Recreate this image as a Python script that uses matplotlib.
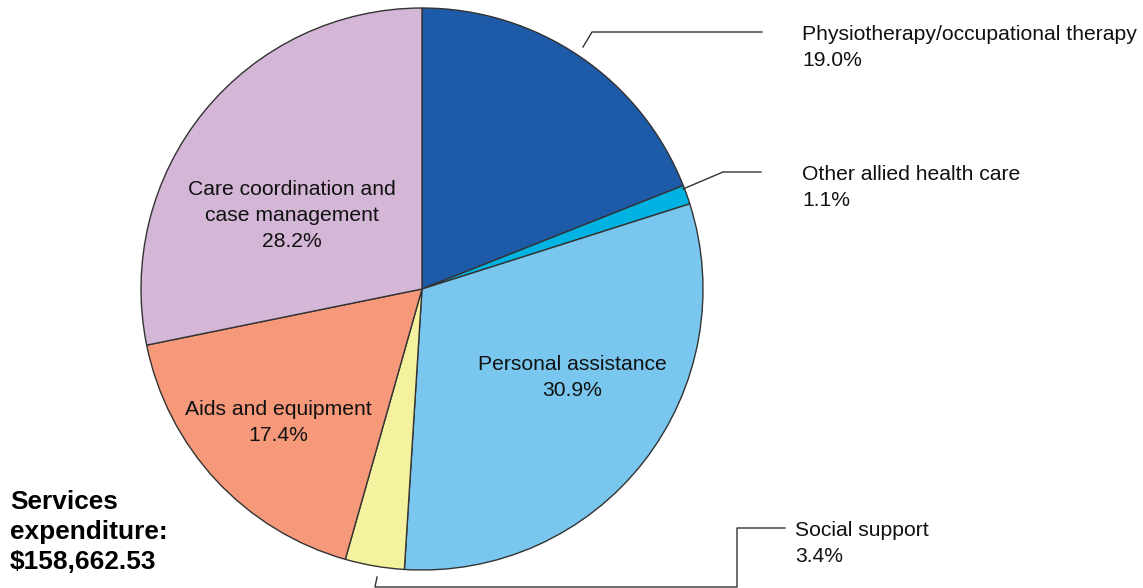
import matplotlib
matplotlib.use("Agg")
import matplotlib.pyplot as plt

plt.rcParams['font.family'] = ['Liberation Sans', 'DejaVu Sans']

categories = [
    "Physiotherapy/occupational therapy",
    "Other allied health care",
    "Personal assistance",
    "Social support",
    "Aids and equipment",
    "Care coordination and case management",
]
shares = [19.0, 1.1, 30.9, 3.4, 17.4, 28.2]
colors = ["#1D5AA8", "#00B3E3", "#79C7EE", "#F4F29E", "#F5997A", "#D4B6D7"]
total_label = "Services\nexpenditure:\n$158,662.53"

W, H = 1143, 588
fig = plt.figure(figsize=(W / 100, H / 100), dpi=100)
ax = fig.add_axes([0, 0, 1, 1])

cx, cy, r = 422, H - 289, 281
ax.pie(shares, colors=colors, startangle=90, counterclock=False,
       center=(cx, cy), radius=r,
       wedgeprops=dict(edgecolor="#333333", linewidth=1.0))
ax.set_xlim(0, W)
ax.set_ylim(0, H)
ax.set_aspect("equal")
ax.axis("off")

fs = 15.2
ls = 1.47
txt = "#111111"

def Y(y):
    return H - y

# labels inside the slices
ax.text(292, Y(215.5), "Care coordination and\ncase management\n28.2%",
        ha="center", va="center", fontsize=fs, color=txt, linespacing=ls)
ax.text(278, Y(422.5), "Aids and equipment\n17.4%",
        ha="center", va="center", fontsize=fs, color=txt, linespacing=ls)
ax.text(572, Y(377.5), "Personal assistance\n30.9%",
        ha="center", va="center", fontsize=fs, color=txt, linespacing=ls)

# labels outside with leader lines
lc = "#333333"
ax.plot([583, 592, 762], [Y(47), Y(32), Y(32)], color=lc, lw=1)
ax.text(802, Y(47.5), "Physiotherapy/occupational therapy\n19.0%",
        ha="left", va="center", fontsize=fs, color=txt, linespacing=ls)

ax.plot([683, 723, 761], [Y(189), Y(172), Y(172)], color=lc, lw=1)
ax.text(802, Y(187.5), "Other allied health care\n1.1%",
        ha="left", va="center", fontsize=fs, color=txt, linespacing=ls)

ax.plot([377, 375, 737, 737, 785], [Y(577), Y(587), Y(587), Y(528), Y(528)],
        color=lc, lw=1)
ax.text(795, Y(543.5), "Social support\n3.4%",
        ha="left", va="center", fontsize=fs, color=txt, linespacing=ls)

ax.text(10, Y(532), total_label, ha="left", va="center", fontsize=18.9,
        fontweight="bold", color="#000000", linespacing=1.29)

fig.savefig("out.png", dpi=100)
